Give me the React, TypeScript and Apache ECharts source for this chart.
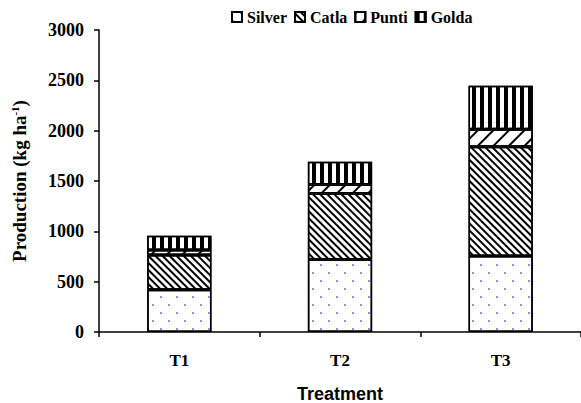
import React, { useEffect, useRef } from "react";
import * as echarts from "echarts";

const categories = ["T1", "T2", "T3"];
const silver = [420, 720, 755];
const catla = [345, 655, 1085];
const punti = [50, 90, 175];
const golda = [140, 225, 430];
const yTicks = [0, 500, 1000, 1500, 2000, 2500, 3000];

const serif = "'Liberation Serif', 'Times New Roman', serif";
const sans = "'Liberation Sans', Arial, sans-serif";

export default function App() {
  const ref = useRef<HTMLDivElement>(null);
  useEffect(() => {
    if (!ref.current) return;
    const chart = echarts.init(ref.current, null, { renderer: "svg" });
    const border = { borderColor: "#000", borderWidth: 1.5 };
    const mk = (name: string, data: number[], decal: any) => ({
      name,
      type: "bar",
      stack: "total",
      data,
      barWidth: "40%",
      itemStyle: { color: "#fff", ...border, decal },
    });
    chart.setOption({
      animation: false,
      backgroundColor: "#fff",
      grid: { left: 99, right: 0, top: 30, bottom: 71, containLabel: false, outerBoundsMode: "none" },
      legend: {
        top: 4,
        left: 226,
        icon: "rect",
        itemWidth: 10,
        itemHeight: 10,
        itemGap: 7,
        textStyle: { fontFamily: serif, fontWeight: "bold", fontSize: 16, color: "#000" },
        data: ["Silver", "Catla", "Punti", "Golda"],
      },
      xAxis: {
        type: "category",
        data: categories,
        name: "Treatment",
        nameLocation: "middle",
        nameGap: 53,
        nameTextStyle: { fontFamily: sans, fontWeight: "bold", fontSize: 18, color: "#000" },
        axisLine: { lineStyle: { color: "#000", width: 1.5 } },
        axisTick: { show: true, length: 5, lineStyle: { color: "#000", width: 1.5 } },
        axisLabel: { fontFamily: serif, fontWeight: "bold", fontSize: 17, color: "#000", margin: 20 },
      },
      yAxis: {
        type: "value",
        min: yTicks[0],
        max: yTicks[yTicks.length - 1],
        interval: 500,
        name: "Production (kg ha{sup|-1})",
        nameLocation: "middle",
        nameGap: 70,
        nameTextStyle: {
          fontFamily: serif,
          fontWeight: "bold",
          fontSize: 19,
          color: "#000",
          rich: {
            sup: { fontFamily: serif, fontWeight: "bold", fontSize: 11, color: "#000", verticalAlign: "top", padding: [0, 0, 9, 0] },
          },
        },
        splitLine: { show: false },
        axisLine: { show: true, lineStyle: { color: "#000", width: 1.5 } },
        axisTick: { show: true, length: 5, lineStyle: { color: "#000", width: 1.5 } },
        axisLabel: {
          fontFamily: serif,
          fontWeight: "bold",
          fontSize: 18,
          color: "#000",
          margin: 15,
          formatter: (v: number) => String(v),
        },
      },
      series: [
        mk("Silver", silver, {
          symbol: "rect",
          symbolSize: 1,
          color: "#8c8cff",
          dashArrayX: [[2, 14], [0, 8, 2, 6]],
          dashArrayY: [2, 6],
        }),
        mk("Catla", catla, {
          symbol: "rect",
          symbolSize: 1,
          color: "#000",
          dashArrayX: [1, 0],
          dashArrayY: [1.8, 2.2],
          rotation: Math.PI / 4,
        }),
        mk("Punti", punti, {
          symbol: "rect",
          symbolSize: 1,
          color: "#000",
          dashArrayX: [1, 0],
          dashArrayY: [1.2, 9],
          rotation: -Math.PI / 4,
        }),
        mk("Golda", golda, {
          symbol: "rect",
          symbolSize: 1,
          color: "#000",
          dashArrayX: [3.5, 4],
          dashArrayY: [1, 0],
        }),
      ],
    });
    return () => chart.dispose();
  }, []);
  return <div ref={ref} style={{ width: 581, height: 403, position: "absolute", left: 0, top: 0 }} />;
}
